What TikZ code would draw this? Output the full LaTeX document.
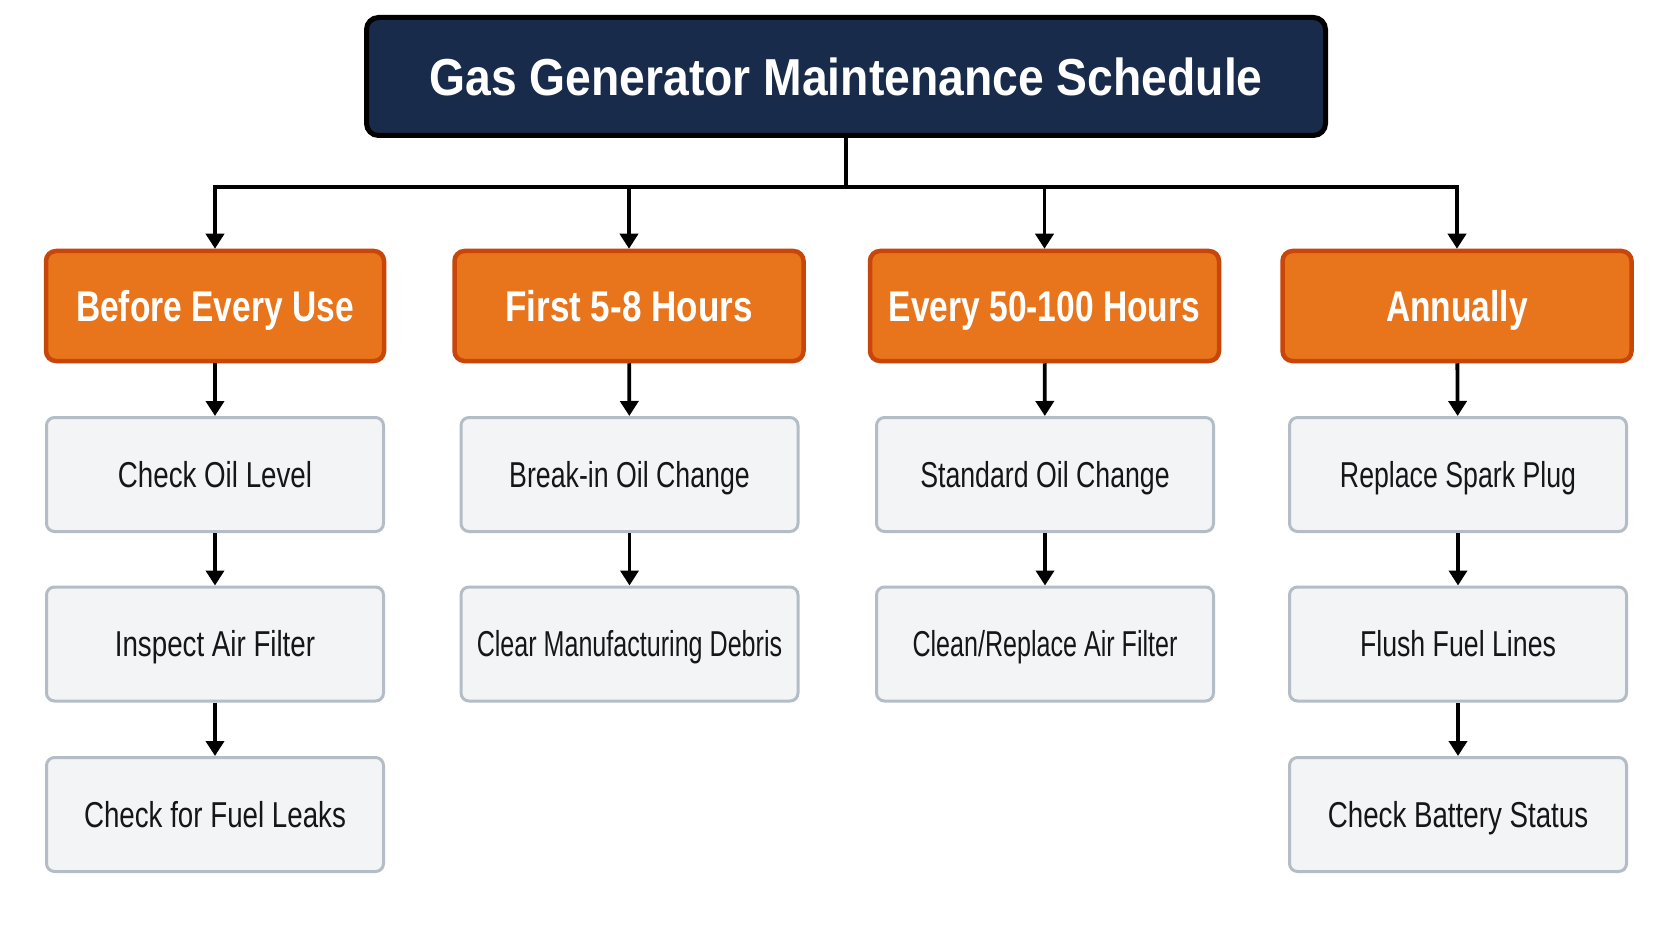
\documentclass[tikz,border=0pt]{standalone}
\usepackage{fontspec}
\setmainfont{Liberation Sans}
\newfontfamily\titlefont{Liberation Sans}[FakeStretch=0.89]
\newfontfamily\catfont{Liberation Sans}[FakeStretch=0.78]
\newfontfamily\catfontw{Liberation Sans}[FakeStretch=0.815]
\newfontfamily\nfA{Liberation Sans}[FakeStretch=0.77]
\newfontfamily\nfB{Liberation Sans}[FakeStretch=0.742]
\newfontfamily\nfC{Liberation Sans}[FakeStretch=0.697]
\usetikzlibrary{arrows.meta}
\definecolor{navy}{RGB}{25,43,75}
\definecolor{orfill}{RGB}{232,117,28}
\definecolor{ordraw}{RGB}{200,70,10}
\definecolor{grfill}{RGB}{242,244,246}
\definecolor{grdraw}{RGB}{180,189,198}
\definecolor{txtdark}{RGB}{22,22,22}
\tikzset{
  titlebox/.style={draw=black, line width=5pt, fill=navy, rounded corners=12pt,
    minimum width=959pt, minimum height=118pt, inner sep=0pt, text=white,
    text height=37.2pt, text depth=0pt,
    font=\titlefont\bfseries\fontsize{52}{60}\selectfont},
  catbox/.style={draw=ordraw, line width=4.5pt, fill=orfill, rounded corners=10pt,
    minimum width=349pt, minimum height=110pt, inner sep=0pt, text=white,
    text height=30.8pt, text depth=0pt,
    font=\catfont\bfseries\fontsize{43}{50}\selectfont},
  taskbox/.style={draw=grdraw, line width=3pt, fill=grfill, rounded corners=8pt,
    minimum width=337pt, minimum height=114pt, inner sep=0pt, text=txtdark,
    text height=25.8pt, text depth=0pt,
    font=\nfA\fontsize{36}{42}\selectfont},
  fB/.style={font=\nfB\fontsize{36}{42}\selectfont},
  fC/.style={font=\nfC\fontsize{36}{42}\selectfont},
  conn/.style={draw=black, line width=3.8pt},
  arr/.style={conn, -{Triangle[length=15pt,width=18pt]}}
}
\begin{document}
\begin{tikzpicture}[x=1pt,y=-1pt]
\useasboundingbox (0,0) rectangle (1672,941);
\fill[white] (0,0) rectangle (1672,941);
\node[titlebox] (title) at (846,76.5) {Gas Generator Maintenance Schedule};
\node[catbox, minimum width=338pt] (o1) at (215,306) {Before Every Use};
\node[catbox, font=\catfontw\bfseries\fontsize{43}{50}\selectfont] (o2) at (629,306) {First 5-8 Hours};
\node[catbox] (o3) at (1044.5,306) {Every 50-100 Hours};
\node[catbox] (o4) at (1457,306) {Annually};
\node[taskbox] (g11) at (215,474.5) {Check Oil Level};
\node[taskbox] (g12) at (215,644) {Inspect Air Filter};
\node[taskbox] (g13) at (215,814.5) {Check for Fuel Leaks};
\node[taskbox, fB] (g21) at (629.5,474.5) {Break-in Oil Change};
\node[taskbox, fC] (g22) at (629.5,644) {Clear Manufacturing Debris};
\node[taskbox, fB] (g31) at (1045,474.5) {Standard Oil Change};
\node[taskbox, fC] (g32) at (1045,644) {Clean/Replace Air Filter};
\node[taskbox, fB] (g41) at (1458,474.5) {Replace Spark Plug};
\node[taskbox, fB] (g42) at (1458,644) {Flush Fuel Lines};
\node[taskbox] (g43) at (1458,814.5) {Check Battery Status};
\coordinate (j) at (title.south |- 0,187);
\draw[conn] (title.south) -- (j);
\draw[arr] (j) -| (o1);
\draw[arr] (j) -| (o2);
\draw[arr] (j) -| (o3);
\draw[arr] (j) -| (o4);
\draw[arr] (o1) -- (g11);
\draw[arr] (g11) -- (g12);
\draw[arr] (g12) -- (g13);
\draw[arr] (o2) -- (g21);
\draw[arr] (g21) -- (g22);
\draw[arr] (o3) -- (g31);
\draw[arr] (g31) -- (g32);
\draw[arr] (o4) -- (g41);
\draw[arr] (g41) -- (g42);
\draw[arr] (g42) -- (g43);
\end{tikzpicture}
\end{document}
